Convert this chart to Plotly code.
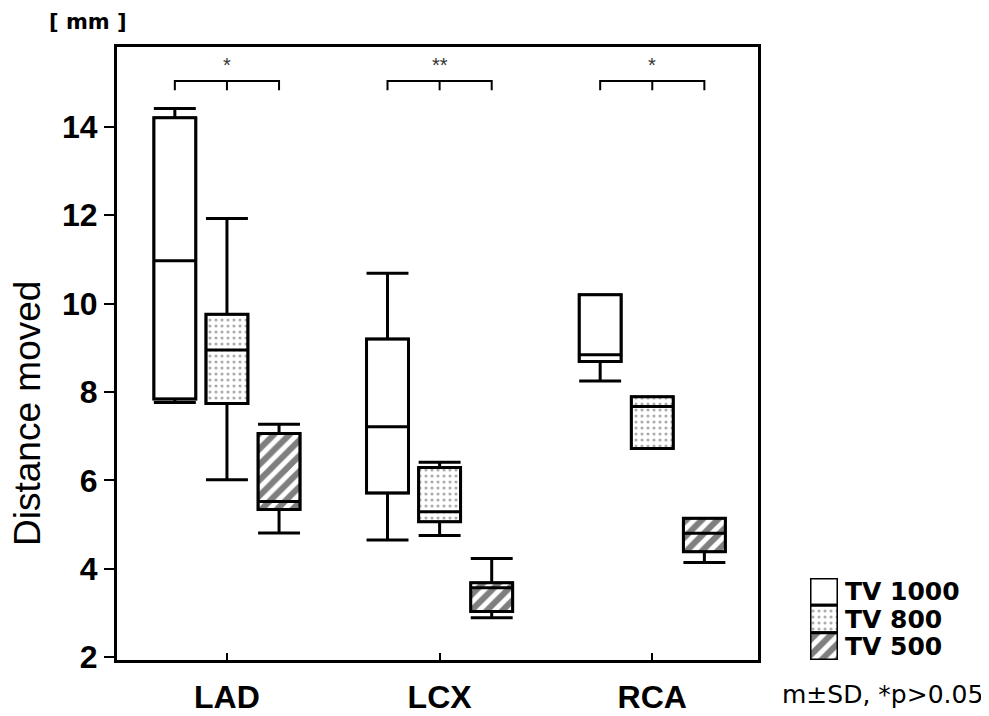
import plotly.graph_objects as go

categories = ["LAD", "LCX", "RCA"]
series_names = ["TV 1000", "TV 800", "TV 500"]

# [LAD, LCX, RCA] per series
upper = {
    "TV 1000": [14.42, 10.69, 10.20],
    "TV 800": [11.93, 6.41, 7.89],
    "TV 500": [7.27, 4.23, 5.14],
}
q3 = {
    "TV 1000": [14.21, 9.20, 10.20],
    "TV 800": [9.76, 6.29, 7.89],
    "TV 500": [7.06, 3.68, 5.14],
}
median = {
    "TV 1000": [10.97, 7.21, 8.84],
    "TV 800": [8.95, 5.29, 7.67],
    "TV 500": [5.52, 3.57, 4.80],
}
q1 = {
    "TV 1000": [7.84, 5.71, 8.69],
    "TV 800": [7.74, 5.06, 6.72],
    "TV 500": [5.34, 3.03, 4.38],
}
lower = {
    "TV 1000": [7.76, 4.65, 8.25],
    "TV 800": [6.01, 4.75, 6.72],
    "TV 500": [4.81, 2.89, 4.14],
}
significance = ["*", "**", "*"]
y_ticks = [2, 4, 6, 8, 10, 12, 14]

patterns = {
    "TV 1000": dict(shape="", fgcolor="black", size=8, solidity=0.2),
    "TV 800": dict(shape=".", fgcolor="#5a5a5a", size=6, solidity=0.22),
    "TV 500": dict(shape="/", fgcolor="black", size=11, solidity=0.55),
}

GAP = 0.265
GROUPGAP = 0.195
slot = (1 - GAP) / 3

MAIN_DOMAIN = [0.0, 0.7523]
LEG_X_DOMAIN = [0.8134, 0.8462]
LEG_Y_DOMAIN = [0.0, 0.1338]

fig = go.Figure()

# patterned fills of the boxes (drawn below the box outlines)
for s in series_names:
    fig.add_trace(go.Bar(
        x=categories,
        base=q1[s],
        y=[a - b for a, b in zip(q3[s], q1[s])],
        name=s,
        marker=dict(color="white", line=dict(color="black", width=2.5),
                    pattern=dict(bgcolor="white", **patterns[s])),
        showlegend=False,
        hoverinfo="skip",
    ))

for s in series_names:
    fig.add_trace(go.Box(
        x=categories,
        q1=q1[s], median=median[s], q3=q3[s],
        lowerfence=lower[s], upperfence=upper[s],
        name=s,
        line=dict(color="black", width=3),
        fillcolor="rgba(0,0,0,0)",
        whiskerwidth=1,
        boxpoints=False,
        showlegend=False,
    ))

# legend drawn as a small inset of stacked patterned swatches
n = len(series_names)
fig.add_trace(go.Bar(
    x=[0] * n,
    base=[n - 1 - i for i in range(n)],
    y=[1] * n,
    width=1,
    xaxis="x2", yaxis="y2",
    marker=dict(
        color="white",
        line=dict(color="black", width=3),
        pattern=dict(
            shape=[patterns[s]["shape"] for s in series_names],
            fgcolor=[patterns[s]["fgcolor"] for s in series_names],
            size=[patterns[s]["size"] for s in series_names],
            solidity=[patterns[s]["solidity"] for s in series_names],
            bgcolor="white",
        ),
    ),
    showlegend=False,
    hoverinfo="skip",
))

# significance brackets
y_line, y_end, y_star = 15.04, 14.83, 15.40
for i, (c, st) in enumerate(zip(categories, significance)):
    xl, xr = i - slot, i + slot
    fig.add_shape(type="path",
                  path=f"M {xl},{y_end} L {xl},{y_line} L {xr},{y_line} L {xr},{y_end}",
                  xref="x", yref="y", line=dict(color="black", width=2))
    fig.add_shape(type="line", x0=i, x1=i, y0=y_line, y1=y_end,
                  xref="x", yref="y", line=dict(color="black", width=2))
    fig.add_annotation(x=i, y=y_star, xref="x", yref="y", text=st, showarrow=False,
                       xanchor="center", yanchor="middle",
                       font=dict(family="Liberation Sans, Arial", size=20, color="#333"))

fig.add_annotation(x=-0.034, y=1.0408, xref="paper", yref="paper", text="<b>[ mm ]</b>",
                   showarrow=False, xanchor="center", yanchor="middle",
                   font=dict(family="DejaVu Sans", size=21, color="black"))
fig.add_annotation(x=0.898, y=-0.0555, xref="paper", yref="paper", text="m±SD, *p>0.05",
                   showarrow=False, xanchor="center", yanchor="middle",
                   font=dict(family="DejaVu Sans", size=25, color="black"))
fig.add_annotation(x=-0.1045, y=0.403, xref="paper", yref="paper", text="Distance moved",
                   textangle=-90, showarrow=False, xanchor="center", yanchor="middle",
                   font=dict(family="Liberation Sans, Arial", size=37, color="black"))

fig.update_layout(
    width=981, height=708,
    margin=dict(l=109, r=20, t=39, b=56, autoexpand=False),
    paper_bgcolor="white", plot_bgcolor="white",
    barmode="group", bargap=GAP, bargroupgap=GROUPGAP,
    boxmode="group", boxgap=GAP, boxgroupgap=GROUPGAP,
    font=dict(family="Liberation Sans, Arial", color="black"),
    showlegend=False,
    xaxis=dict(
        domain=MAIN_DOMAIN,
        range=[-0.517, 2.497], showline=True, linecolor="black", linewidth=3, mirror=True,
        ticks="inside", ticklen=7, tickwidth=2, tickcolor="black",
        showgrid=False, zeroline=False, automargin=False, ticklabelstandoff=7,
        tickfont=dict(size=32, weight="bold"),
    ),
    yaxis=dict(
        range=[1.932, 15.81], tickvals=y_ticks, showline=True, linecolor="black", linewidth=3,
        mirror=True, ticks="outside", ticklen=10, tickwidth=2, tickcolor="black",
        showgrid=False, zeroline=False, automargin=False,
        tickfont=dict(size=32, weight="bold"),
    ),
    xaxis2=dict(
        domain=LEG_X_DOMAIN, anchor="y2", range=[-0.5, 0.5],
        visible=False, fixedrange=True,
    ),
    yaxis2=dict(
        domain=LEG_Y_DOMAIN, anchor="x2", range=[0, n], side="right",
        tickvals=[n - 1 - i + 0.5 for i in range(n)], ticktext=series_names,
        ticks="", showline=False, showgrid=False, zeroline=False, automargin=False,
        ticklabelstandoff=6,
        tickfont=dict(family="DejaVu Sans", size=25, weight="bold", color="black"),
    ),
)

fig.write_html("out.html")
